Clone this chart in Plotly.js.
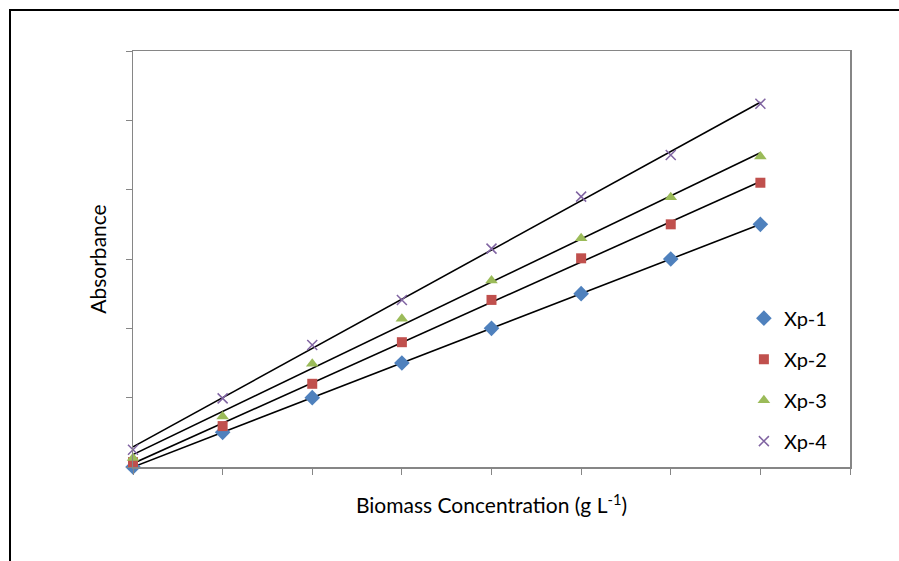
<!DOCTYPE html>
<html>
<head>
<meta charset="utf-8">
<script src="https://cdn.plot.ly/plotly-3.0.1.min.js"></script>
<style>
  html, body { margin: 0; padding: 0; background: #fff; }
  #wrap { position: relative; width: 899px; height: 561px; overflow: hidden; }
  #chart { position: absolute; left: 0; top: 0; width: 899px; height: 561px; }
  #frame { position: absolute; left: 9px; top: 9px; width: 900px; height: 600px;
           border-left: 2px solid #000; border-top: 2px solid #000; pointer-events: none; }
</style>
</head>
<body>
<div id="wrap">
  <div id="chart"></div>
  <div id="frame"></div>
</div>
<script>
// Data
const concentration = [0, 1, 2, 3, 4, 5, 6, 7];
const xp1 = [0.00, 0.50, 1.00, 1.50, 2.00, 2.50, 3.00, 3.50];
const xp2 = [0.07, 0.59, 1.20, 1.80, 2.41, 3.01, 3.50, 4.10];
const xp3 = [0.13, 0.73, 1.49, 2.14, 2.69, 3.30, 3.89, 4.48];
const xp4 = [0.25, 0.99, 1.76, 2.41, 3.15, 3.90, 4.50, 5.24];
const seriesNames = ['Xp-1', 'Xp-2', 'Xp-3', 'Xp-4'];

const seriesData = [xp1, xp2, xp3, xp4];
const styles = [
  {symbol: 'diamond', color: '#4F81BD', size: 12},
  {symbol: 'square', color: '#C0504D', size: 10},
  {symbol: 'triangle-up', color: '#9BBB59', size: 11},
  {symbol: 'x-thin', color: '#8064A2', size: 10}
];

function linfit(xs, ys) {
  const n = xs.length;
  let sx = 0, sy = 0, sxx = 0, sxy = 0;
  for (let i = 0; i < n; i++) { sx += xs[i]; sy += ys[i]; sxx += xs[i]*xs[i]; sxy += xs[i]*ys[i]; }
  const b = (n*sxy - sx*sy) / (n*sxx - sx*sx);
  const a = (sy - b*sx) / n;
  return {a, b};
}

const traces = [];
seriesData.forEach((ys, i) => {
  const f = linfit(concentration, ys);
  const x0 = concentration[0], x1 = concentration[concentration.length - 1];
  traces.push({
    x: [x0, x1], y: [f.a + f.b*x0, f.a + f.b*x1],
    mode: 'lines', type: 'scatter', showlegend: false, hoverinfo: 'skip',
    line: {color: '#000', width: 1.6}
  });
});
seriesData.forEach((ys, i) => {
  const s = styles[i];
  const marker = {symbol: s.symbol, color: s.color, size: s.size};
  if (s.symbol === 'x-thin') marker.line = {color: s.color, width: 1.5};
  traces.push({
    x: concentration, y: ys, name: seriesNames[i], legendgroup: 'g' + i,
    mode: 'markers', type: 'scatter', marker: marker, cliponaxis: false
  });
});

const layout = {
  width: 899, height: 561,
  margin: {l: 133, r: 49, t: 51, b: 94},
  paper_bgcolor: '#fff', plot_bgcolor: '#fff',
  font: {family: 'Lato, "Open Sans", sans-serif', color: '#000', size: 20},
  showlegend: true,
  legend: {x: 0.852, y: 0.21, xanchor: 'left', yanchor: 'middle',
           font: {size: 20}, traceorder: 'grouped', tracegroupgap: 12,
           bgcolor: 'rgba(0,0,0,0)', itemwidth: 30},
  xaxis: {
    range: [0, 8], dtick: 1, tick0: 0, showticklabels: false,
    ticks: 'outside', ticklen: 6, tickcolor: '#868686', tickwidth: 1,
    showline: true, linecolor: '#868686', linewidth: 1.5, mirror: true,
    showgrid: false, zeroline: false, fixedrange: true,
    title: {text: 'Biomass Concentration (g L<sup>-1</sup>)', font: {size: 21}, standoff: 25}
  },
  yaxis: {
    range: [0, 6], dtick: 1, tick0: 0, showticklabels: false,
    ticks: 'outside', ticklen: 6, tickcolor: '#868686', tickwidth: 1,
    showline: true, linecolor: '#868686', linewidth: 1.5, mirror: true,
    showgrid: false, zeroline: false, fixedrange: true,
    title: {text: 'Absorbance', font: {size: 21}, standoff: 13}
  }
};

Plotly.newPlot('chart', traces, layout, {displayModeBar: false, staticPlot: true});
</script>
</body>
</html>
